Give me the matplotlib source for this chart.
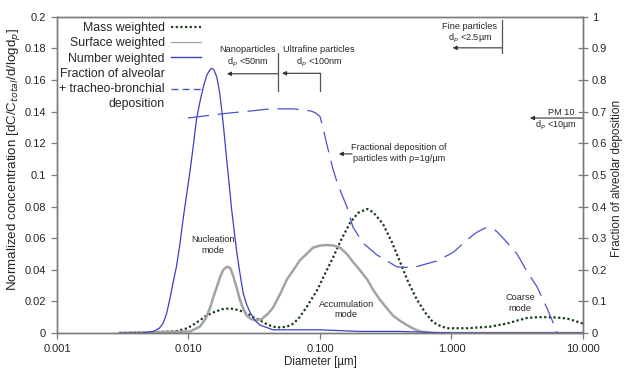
import numpy as np
import matplotlib
matplotlib.use("Agg")
import matplotlib.pyplot as plt
from matplotlib.lines import Line2D
from matplotlib.ticker import FixedLocator, FuncFormatter

plt.rcParams["font.family"] = ["Liberation Sans", "DejaVu Sans"]

# ----------------------------------------------------------
# data (diameter in um)
# ----------------------------------------------------------
d_num = [0.003, 0.0045, 0.0054, 0.006, 0.0064, 0.0068, 0.0072, 0.0076, 0.0081, 0.0086,
         0.0091, 0.0097, 0.0103, 0.0109, 0.0115, 0.0122, 0.0130, 0.0137, 0.0144, 0.0150,
         0.0156, 0.0164, 0.0172, 0.0179, 0.0187, 0.0195, 0.0204, 0.0213, 0.0223, 0.0233,
         0.0247, 0.0261, 0.0277, 0.0294, 0.032, 0.035, 0.044, 0.06, 0.1, 0.2,
         0.4, 1.0, 10.0]
num_w = [0, 0, 0.001, 0.003, 0.006, 0.012, 0.021, 0.031, 0.042, 0.056,
         0.072, 0.088, 0.103, 0.119, 0.135, 0.146, 0.156, 0.1625, 0.166, 0.1675,
         0.1665, 0.162, 0.153, 0.141, 0.126, 0.110, 0.094, 0.078, 0.064, 0.051,
         0.037, 0.025, 0.018, 0.013, 0.008, 0.005, 0.002, 0.002, 0.002, 0.001,
         0.001, 0, 0]

d_srf = [0.003, 0.0103, 0.0122, 0.0135, 0.0146, 0.0155, 0.0164, 0.0175, 0.0184, 0.0197,
         0.0208, 0.0219, 0.0232, 0.0246, 0.0262, 0.0277, 0.030, 0.033, 0.036, 0.040,
         0.0439, 0.050, 0.0561, 0.063, 0.0704, 0.079, 0.0885, 0.10, 0.113, 0.127,
         0.142, 0.16, 0.178, 0.20, 0.228, 0.255, 0.286, 0.32, 0.359, 0.41,
         0.459, 0.52, 0.576, 0.65, 0.723, 10.0]
srf_w = [0, 0.001, 0.004, 0.009, 0.016, 0.023, 0.029, 0.036, 0.040, 0.042,
         0.041, 0.036, 0.029, 0.021, 0.015, 0.011, 0.0088, 0.008, 0.0088, 0.012,
         0.016, 0.025, 0.034, 0.040, 0.046, 0.050, 0.054, 0.0553, 0.0557, 0.0553,
         0.054, 0.050, 0.045, 0.040, 0.034, 0.027, 0.021, 0.016, 0.011, 0.0075,
         0.005, 0.0025, 0.001, 0.0004, 0, 0]

d_mass = [0.003, 0.0079, 0.0098, 0.011, 0.0122, 0.0137, 0.0154, 0.018, 0.0207, 0.024,
          0.0279, 0.031, 0.035, 0.0395, 0.0439, 0.050, 0.0561, 0.063, 0.070, 0.080,
          0.0949, 0.11, 0.126, 0.145, 0.169, 0.195, 0.228, 0.253, 0.275, 0.301,
          0.35, 0.406, 0.47, 0.547, 0.63, 0.72, 0.82, 0.925, 1.03, 1.31,
          1.6, 1.96, 2.64, 3.2, 3.75, 4.5, 5.32, 6.3, 7.55, 10.0]
mass_w = [0, 0.001, 0.003, 0.0055, 0.008, 0.011, 0.013, 0.015, 0.0156, 0.0145,
          0.0125, 0.010, 0.008, 0.0055, 0.004, 0.0035, 0.004, 0.006, 0.010, 0.017,
          0.027, 0.038, 0.048, 0.059, 0.0696, 0.076, 0.0785, 0.0765, 0.073, 0.069,
          0.058, 0.045, 0.032, 0.021, 0.013, 0.007, 0.0045, 0.003, 0.003, 0.003,
          0.0035, 0.004, 0.006, 0.008, 0.0095, 0.010, 0.010, 0.0098, 0.0092, 0.006]

d_dep = [0.0099, 0.0154, 0.0207, 0.0309, 0.0417, 0.0623, 0.0839, 0.092, 0.100, 0.105,
         0.113, 0.126, 0.137, 0.160, 0.178, 0.212, 0.271, 0.385, 0.510, 0.776,
         1.03, 1.38, 1.55, 1.80, 2.07, 2.25, 2.47, 3.15, 3.75, 4.47,
         5.32, 6.12, 6.34]
dep_frac = [0.68, 0.69, 0.696, 0.703, 0.709, 0.709, 0.703, 0.697, 0.685, 0.652,
            0.595, 0.516, 0.468, 0.40, 0.335, 0.285, 0.247, 0.209, 0.207, 0.228,
            0.255, 0.302, 0.318, 0.332, 0.330, 0.318, 0.30, 0.25, 0.195, 0.146,
            0.079, 0.019, 0]

x_ticks = [0.001, 0.01, 0.1, 1.0, 10.0]
x_tick_labels = ["0.001", "0.010", "0.100", "1.000", "10.000"]
y_ticks = [0, 0.02, 0.04, 0.06, 0.08, 0.1, 0.12, 0.14, 0.16, 0.18, 0.2]
y2_ticks = [0, 0.1, 0.2, 0.3, 0.4, 0.5, 0.6, 0.7, 0.8, 0.9, 1]

TXT = "#262626"
SPINE = "#7a7a7a"
BLUE = "#3b3fc4"
DASH_BLUE = "#4c52c8"
GRAY = "#a3a3a3"
GREEN = "#173d17"

fig = plt.figure(figsize=(6.24, 3.75), dpi=100)
ax = fig.add_axes([0.0913, 0.112, 0.843, 0.843])
ax2 = ax.twinx()

ax.plot(d_mass, mass_w, color=GREEN, lw=1.6, linestyle=(0, (1, 1.1)))
ax.plot(d_srf, srf_w, color=GRAY, lw=1.8)
ax.plot(d_num, num_w, color=BLUE, lw=0.9)
ax2.plot(d_dep, dep_frac, color=DASH_BLUE, lw=0.9, dashes=(17, 7))

ax.set_xscale("log")
ax.set_xlim(0.001, 10)
ax.set_ylim(0, 0.2)
ax2.set_ylim(0, 1)

ax.xaxis.set_major_locator(FixedLocator(x_ticks))
ax.xaxis.set_minor_locator(FixedLocator([]))
ax.set_xticklabels(x_tick_labels)
ax.set_yticks(y_ticks)
ax.yaxis.set_major_formatter(FuncFormatter(lambda v, p: f"{v:g}"))
ax2.set_yticks(y2_ticks)
ax2.yaxis.set_major_formatter(FuncFormatter(lambda v, p: f"{v:g}"))

for a in (ax, ax2):
    for s in a.spines.values():
        s.set_color(SPINE)
        s.set_linewidth(1.0)
ax.tick_params(axis="both", direction="out", length=4, width=0.9, color=SPINE,
               labelsize=8, labelcolor=TXT, pad=4)
ax2.tick_params(axis="y", direction="inout", length=7, width=0.9, color=SPINE,
                labelsize=8, labelcolor=TXT, pad=3)

ax.set_xlabel("Diameter [µm]", fontsize=8.3, color=TXT, labelpad=1)
ax.set_ylabel("Normalized concentration [dC/C$_{total}$/d/logd$_p$]", fontsize=9.6, color=TXT)
ax.yaxis.set_label_coords(-0.066, 0.547)
ax2.set_ylabel("Fraction of alveolar deposition", fontsize=8.5, color=TXT)
ax2.yaxis.set_label_coords(1.053, 0.49)

# legend (text on the left, handles on the right)
leg_handles = [
    Line2D([], [], color=GREEN, lw=1.6, linestyle=(0, (1, 1.1))),
    Line2D([], [], color=GRAY, lw=0.9),
    Line2D([], [], color=BLUE, lw=1.0),
    Line2D([], [], color=DASH_BLUE, lw=1.0, dashes=(5, 3)),
]
leg_labels = ["Mass weighted", "Surface weighted", "Number weighted",
              "Fraction of alveolar\n+ tracheo-bronchial\ndeposition"]
leg = ax2.legend(handles=leg_handles, labels=leg_labels, loc="upper right",
                 bbox_to_anchor=(0.278, 0.99), frameon=False, markerfirst=False,
                 fontsize=8.8, handlelength=2.5, handletextpad=0.5, labelspacing=0.28,
                 borderaxespad=0.05, borderpad=0.1)
for t in leg.get_texts():
    t.set_multialignment("right")
    t.set_linespacing(1.3)
    t.set_color(TXT)

# ----------------------------------------------------------
# annotations
# ----------------------------------------------------------
SMALL = 6.6
arr = dict(arrowstyle="-|>", color="#333333", lw=0.8, mutation_scale=6, shrinkA=0, shrinkB=0)

# nanoparticles
ax.plot([0.048, 0.048], [0.153, 0.177], color="#555555", lw=0.9)
ax.annotate("", xy=(0.0196, 0.164), xytext=(0.048, 0.164), arrowprops=arr)
ax.text(0.028, 0.1745, "Nanoparticles\nd$_p$ <50nm", fontsize=SMALL, color=TXT,
        ha="center", va="center", linespacing=1.2)

# ultrafine
ax.plot([0.1, 0.1], [0.153, 0.1646], color="#555555", lw=0.9)
ax.annotate("", xy=(0.0514, 0.1643), xytext=(0.1, 0.1643), arrowprops=arr)
ax.text(0.098, 0.1745, "Ultrafine particles\nd$_p$ <100nm", fontsize=SMALL, color=TXT,
        ha="center", va="center", linespacing=1.2)

# fine particles
ax.plot([2.42, 2.42], [0.177, 0.198], color="#555555", lw=0.9)
ax.annotate("", xy=(1.02, 0.1804), xytext=(2.42, 0.1804), arrowprops=arr)
ax.text(1.38, 0.1895, "Fine particles\nd$_p$ <2.5µm", fontsize=SMALL, color=TXT,
        ha="center", va="center", linespacing=1.2)

# PM10
ax.annotate("", xy=(3.95, 0.136), xytext=(10, 0.136), arrowprops=arr)
ax.text(6.8, 0.1365, "PM 10", fontsize=SMALL, color=TXT, ha="center", va="bottom")
ax.text(6.2, 0.1355, "d$_p$ <10µm", fontsize=SMALL, color=TXT, ha="center", va="top")

# fractional deposition
ax.annotate("", xy=(0.139, 0.1133), xytext=(0.175, 0.1133), arrowprops=arr)
ax.text(0.40, 0.1139, "Fractional deposition of\nparticles with ρ=1g/µm", fontsize=SMALL,
        color=TXT, ha="center", va="center", linespacing=1.3)

# modes
ax.text(0.0154, 0.0557, "Nucleation\nmode", fontsize=SMALL, color=TXT, ha="center", va="center")
ax.text(0.158, 0.0149, "Accumulation\nmode", fontsize=SMALL, color=TXT, ha="center", va="center")
ax.text(3.32, 0.019, "Coarse\nmode", fontsize=SMALL, color=TXT, ha="center", va="center")

fig.savefig("out.png", dpi=100, facecolor="white")
